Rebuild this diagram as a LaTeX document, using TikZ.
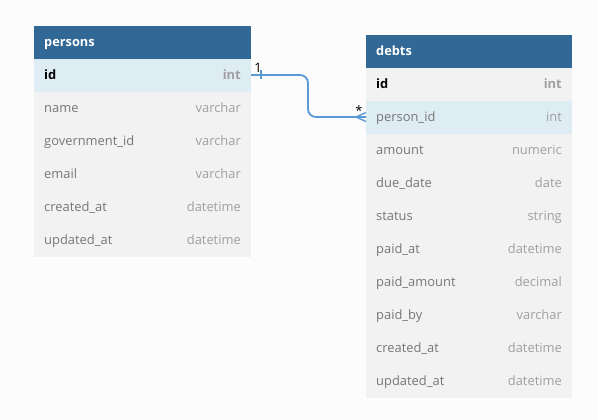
\documentclass[tikz,border=0pt]{standalone}
\usepackage{fontspec}
\setmainfont{Open Sans}
\begin{document}
\begin{tikzpicture}[x=1pt,y=-1pt,
  hdr/.style={fill=hdrblue,draw=none},
  rowbox/.style={fill=rowgray,draw=none},
  keybox/.style={fill=keyblue,draw=none},
  tbox/.style={inner sep=0pt,text height=9.3pt,text depth=0.7pt},
  htext/.style={tbox,anchor=west,text=white,font=\bfseries\fontsize{12.8}{14}\selectfont},
  ftext/.style={tbox,anchor=west,text=fieldgray,font=\fontsize{12.9}{14}\selectfont},
  fkey/.style={tbox,anchor=west,text=black,font=\bfseries\fontsize{12.9}{14}\selectfont},
  ttext/.style={tbox,anchor=east,text=typegray,font=\fontsize{12.9}{14}\selectfont},
  tkey/.style={tbox,anchor=east,text=typegray,font=\bfseries\fontsize{12.9}{14}\selectfont},
  rel/.style={draw=relblue,line width=1.8pt},
  card/.style={text=black,font=\fontsize{13}{14}\selectfont,inner sep=0pt}
]
\definecolor{hdrblue}{HTML}{316896}
\definecolor{rowgray}{HTML}{F2F2F2}
\definecolor{keyblue}{HTML}{DEECF4}
\definecolor{fieldgray}{HTML}{777777}
\definecolor{typegray}{HTML}{A0A0A0}
\definecolor{relblue}{HTML}{5B9BD5}
\definecolor{bg}{HTML}{FCFCFC}
\fill[bg] (0,0) rectangle (597,420);
\useasboundingbox (0,0) rectangle (597,420);

% persons table
\fill[hdr] (34,26) rectangle (251,59);
\node[htext] (ph) at (44,42.5) {persons};
\fill[keybox] (34,59) rectangle (251,92);
\fill[rowbox] (34,92) rectangle (251,257);
\node[fkey] (pid) at (44,75.5) {id};
\node[tkey] (pidt) at (241,75.5) {int};
\node[ftext] (pn) at (44,108.5) {name};
\node[ttext] (pnt) at (241,108.5) {varchar};
\node[ftext] (pg) at (44,141.5) {government\_id};
\node[ttext] (pgt) at (241,141.5) {varchar};
\node[ftext] (pe) at (44,174.5) {email};
\node[ttext] (pet) at (241,174.5) {varchar};
\node[ftext] (pc) at (44,207.5) {created\_at};
\node[ttext] (pct) at (241,207.5) {datetime};
\node[ftext] (pu) at (44,240.5) {updated\_at};
\node[ttext] (put) at (241,240.5) {datetime};

% debts table
\fill[hdr] (366,35) rectangle (572,68);
\node[htext] (dh) at (376,51.5) {debts};
\fill[rowbox] (366,68) rectangle (572,101);
\fill[keybox] (366,101) rectangle (572,134);
\fill[rowbox] (366,134) rectangle (572,398);
\node[fkey] (did) at (376,84.5) {id};
\node[tkey] (didt) at (562,84.5) {int};
\node[ftext] (dp) at (376,117.5) {person\_id};
\node[ttext] (dpt) at (562,117.5) {int};
\node[ftext] (da) at (376,150.5) {amount};
\node[ttext] (dat) at (562,150.5) {numeric};
\node[ftext] (dd) at (376,183.5) {due\_date};
\node[ttext] (ddt) at (562,183.5) {date};
\node[ftext] (ds) at (376,216.5) {status};
\node[ttext] (dst) at (562,216.5) {string};
\node[ftext] (dpa) at (376,249.5) {paid\_at};
\node[ttext] (dpat) at (562,249.5) {datetime};
\node[ftext] (dpm) at (376,282.5) {paid\_amount};
\node[ttext] (dpmt) at (562,282.5) {decimal};
\node[ftext] (dpb) at (376,315.5) {paid\_by};
\node[ttext] (dpbt) at (562,315.5) {varchar};
\node[ftext] (dc) at (376,348.5) {created\_at};
\node[ttext] (dct) at (562,348.5) {datetime};
\node[ftext] (du) at (376,381.5) {updated\_at};
\node[ttext] (dut) at (562,381.5) {datetime};

% relation
\coordinate (rs) at (251,75);
\coordinate (re) at (366,117);
\draw[rel,rounded corners=8pt] (rs) -- (308,75) -- (308,117) -- (re);
\coordinate (tk) at (261,75);
\draw[rel,line width=1.4pt] ([yshift=-4.5]tk) -- ([yshift=4.5]tk);
\coordinate (cf) at (356,117);
\draw[rel,line width=1.4pt] (cf) -- (366,112.5);
\draw[rel,line width=1.4pt] (cf) -- (366,121.5);
\node[card] (c1) at (258,68) {1};
\node[card] (c2) at (359,111) {*};
\end{tikzpicture}
\end{document}
